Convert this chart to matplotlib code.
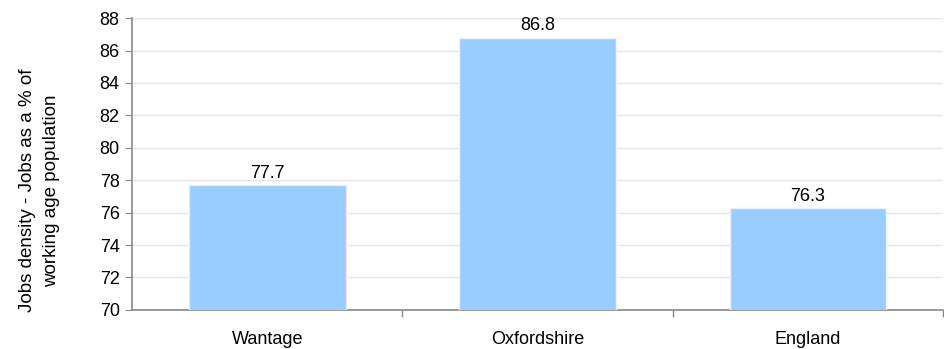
import matplotlib
matplotlib.use("Agg")
import matplotlib.pyplot as plt

# data
areas = ["Wantage", "Oxfordshire", "England"]
jobs_density = [77.7, 86.8, 76.3]
y_ticks = [70, 72, 74, 76, 78, 80, 82, 84, 86, 88]

plt.rcParams['font.family'] = ['Liberation Sans', 'DejaVu Sans']
fs = 13

fig = plt.figure(figsize=(9.44, 3.49), dpi=100)
ax = fig.add_axes([0.140, 0.112, 0.859, 0.836])

x = range(len(areas))
bars = ax.bar(x, jobs_density, width=0.58, color="#99CCFF",
              edgecolor="#EAF3FC", linewidth=1, zorder=3)
bars[0].set_edgecolor("#EFEBE2")

for xi, v in zip(x, jobs_density):
    ax.text(xi, v + 0.2, f"{v:.1f}", ha="center", va="bottom", fontsize=fs)

ax.set_ylim(70, 88)
ax.set_yticks(y_ticks)
ax.set_xlim(-0.5, len(areas) - 0.5)
ax.set_xticks(list(x))
ax.set_xticklabels(areas, fontsize=fs)
ax.set_xticks([i + 0.5 for i in x], minor=True)
ax.tick_params(axis="x", which="major", length=0, pad=15)
ax.tick_params(axis="x", which="minor", length=5, color="#888888", width=1)
ax.tick_params(axis="y", length=5, color="#888888", labelsize=fs, pad=4)

ax.grid(axis="y", color="#E6E6E6", linewidth=1, zorder=0)
for s in ["top", "right"]:
    ax.spines[s].set_visible(False)
for s in ["left", "bottom"]:
    ax.spines[s].set_color("#888888")
    ax.spines[s].set_linewidth(1.2)

ax.set_ylabel("Jobs density - Jobs as a % of\nworking age population",
              fontsize=13.5, linespacing=1.5)
ax.yaxis.set_label_coords(-0.089, 0.41)

fig.savefig("out.png", dpi=100)
